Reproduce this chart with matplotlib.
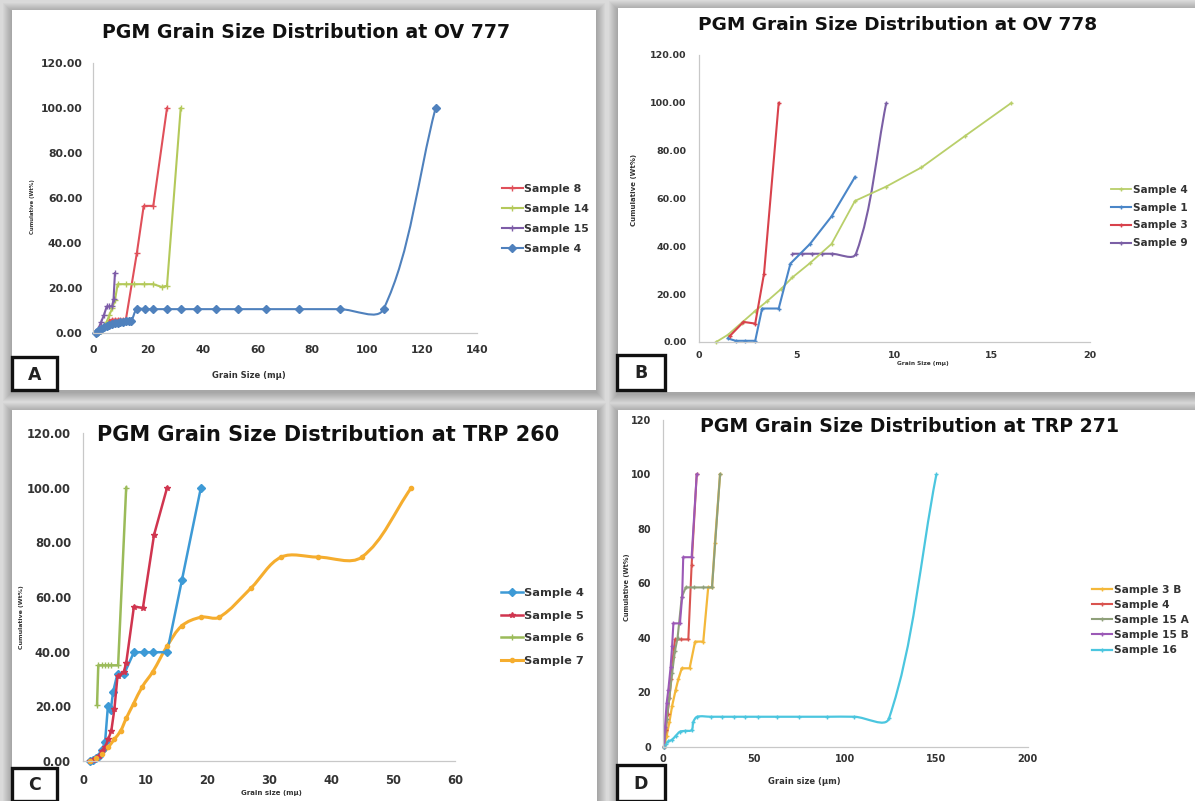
import numpy as np
import matplotlib
matplotlib.use('Agg')
import matplotlib.pyplot as plt
from matplotlib.lines import Line2D
from matplotlib.patches import Rectangle, PathPatch
from matplotlib.path import Path
from matplotlib.ticker import FormatStrFormatter, MultipleLocator

W, H = 1195, 801

# ---------------- panel A : OV 777 ----------------
a_labels = ['Sample 8', 'Sample 14', 'Sample 15', 'Sample 4']
a_s8_x = [1, 2, 3, 4, 5, 6, 7, 8, 9, 10, 11, 12, 16, 18.5, 22, 27]
a_s8_y = [0, 0.5, 1.5, 3, 4.5, 5.5, 6, 6, 6, 6, 6, 6, 35.5, 56.5, 56.5, 100]
a_s14_x = [2, 3, 4, 5, 6, 7, 8, 9, 12, 15, 18.5, 22, 25, 27, 32]
a_s14_y = [0, 1, 3, 5, 8, 11, 14.5, 21.7, 21.7, 21.7, 21.7, 21.7, 20.5, 21, 100]
a_s15_x = [1, 2, 3, 4, 5, 6, 7, 7.5, 8]
a_s15_y = [0, 2, 5, 8, 11.8, 11.8, 12, 15, 26.6]
a_s4_x = [1, 1.5, 2, 2.5, 3, 4, 5, 6, 7, 8, 9, 10, 11, 12, 13, 14,
          16, 19, 22, 27, 32, 38, 45, 53, 63, 75, 90, 106, 125]
a_s4_y = [0, 0.5, 1, 1.5, 2, 2.5, 3, 3.5, 4, 4.3, 4.6, 4.9, 5.1, 5.3, 5.5, 5.5,
          10.6, 10.6, 10.6, 10.6, 10.6, 10.6, 10.6, 10.6, 10.6, 10.6, 10.6, 10.6, 100]

# ---------------- panel B : OV 778 ----------------
b_labels = ['Sample 4', 'Sample 1', 'Sample 3', 'Sample 9']
b_s4_x = [0.9, 1.5, 2.2, 2.9, 3.5, 4.2, 4.8, 5.7, 6.8, 8, 9.6, 11.4, 13.6, 16]
b_s4_y = [0, 3, 8, 13, 17, 22, 27, 33, 41, 59, 65, 73, 86, 100]
b_s1_x = [1.5, 1.9, 2.4, 2.9, 3.25, 4.1, 4.7, 5.7, 6.8, 8]
b_s1_y = [1.5, 0.5, 0.5, 0.5, 14, 14, 32.8, 41, 52.5, 69]
b_s3_x = [1.6, 2.3, 2.9, 3.35, 4.1]
b_s3_y = [2.5, 8.4, 7.7, 28.6, 100]
b_s9_x = [4.8, 5.3, 5.8, 6.3, 6.8, 8.05, 9.6]
b_s9_y = [36.9, 36.9, 36.9, 36.9, 36.9, 36.9, 100]

# ---------------- panel C : TRP 260 ----------------
c_labels = ['Sample 4', 'Sample 5', 'Sample 6', 'Sample 7']
c_s4_x = [1, 1.5, 2, 2.5, 3, 3.5, 3.95, 4.4, 4.8, 5.5, 6.6, 8.15, 9.7, 11.2, 13.5, 15.9, 18.95]
c_s4_y = [0, 0.5, 1, 2, 4, 7, 20, 18.5, 25.4, 32, 32, 39.8, 39.8, 39.8, 39.8, 66.3, 100]
c_s5_x = [1, 1.5, 2, 2.5, 3, 3.5, 4, 4.5, 5, 5.5, 6.5, 6.9, 8.15, 9.6, 11.4, 13.5]
c_s5_y = [0, 0.5, 1, 2, 3.5, 5, 8, 11, 19, 31, 32.5, 35.8, 56.5, 56, 82.8, 100]
c_s6_x = [2.2, 2.4, 3, 3.5, 4, 4.5, 5.6, 6.9]
c_s6_y = [20.5, 35, 35, 35, 35, 35, 35, 100]
c_s7_x = [1, 2, 3, 4, 5, 6, 6.9, 8.1, 9.5, 11.2, 13.5, 15.9, 18.95, 21.9, 27, 31.9, 37.8, 44.9, 52.9]
c_s7_y = [0, 1, 2.5, 5, 8, 11, 15.6, 21, 27.2, 32.7, 42, 49.5, 52.6, 52.6, 63.2, 74.6, 74.6, 74.6, 100]

# ---------------- panel D : TRP 271 ----------------
d_labels = ['Sample 3 B', 'Sample 4', 'Sample 15 A', 'Sample 15 B', 'Sample 16']
d_s3b_x = [0.5, 2, 3.5, 5, 7, 8.5, 10.3, 14.6, 17.6, 22.1, 24.8, 26.9, 28.5, 31.3]
d_s3b_y = [0, 4, 9, 15, 21, 25, 28.8, 28.8, 38.6, 38.6, 58.5, 58.5, 75, 100]
d_s4_x = [0.5, 1.5, 2.5, 3.5, 4.5, 5.5, 6.6, 10, 13.9, 15.7, 18.5]
d_s4_y = [0, 6, 12, 18, 25, 33, 39.4, 39.4, 39.4, 66.7, 100]
d_s15a_x = [0.5, 2, 3.5, 5, 6.5, 8, 10.3, 12.5, 17, 22, 26.9, 31.3]
d_s15a_y = [0, 10, 18, 27, 35, 40, 55, 58.5, 58.5, 58.5, 58.5, 100]
d_s15b_x = [0.5, 1.1, 2, 2.9, 4.2, 5, 5.7, 9.3, 10.5, 11.1, 15.7, 18.5]
d_s15b_y = [0, 7.3, 16, 20.8, 29.4, 37, 45.3, 45.3, 55, 69.6, 69.6, 100]
d_s16_x = [0.5, 1.5, 3, 4.8, 7, 9.3, 12, 15.7, 16.7, 18.8, 26.2, 32.4, 38.7, 45,
           52.3, 62.8, 74.7, 90, 105, 124, 150]
d_s16_y = [0, 1, 2, 2.5, 4, 5.5, 5.8, 6.1, 9.2, 11, 11, 11, 11, 11,
           11, 11, 11, 11, 11, 10.4, 100]

plt.rcParams['font.family'] = ['DejaVu Sans']
TXT = '#333333'


def smooth_path(ax, x, y, k=0.35):
    # bezier through the points, handles scaled by chord length (like Excel "smoothed line")
    pts = np.column_stack([x, y]).astype(float)
    scr = ax.transData.transform(pts)
    n = len(pts)
    verts, codes = [pts[0]], [Path.MOVETO]
    for i in range(n - 1):
        i0, i3 = max(i - 1, 0), min(i + 2, n - 1)
        d01 = np.hypot(*(scr[i] - scr[i0]))
        d12 = np.hypot(*(scr[i + 1] - scr[i]))
        d23 = np.hypot(*(scr[i3] - scr[i + 1]))
        c1 = pts[i] + (pts[i + 1] - pts[i0]) * k * d12 / max(d01 + d12, 1e-9)
        c2 = pts[i + 1] - (pts[i3] - pts[i]) * k * d12 / max(d12 + d23, 1e-9)
        verts += [c1, c2, pts[i + 1]]
        codes += [Path.CURVE4] * 3
    return Path(verts, codes)


fig = plt.figure(figsize=(W / 100, H / 100), dpi=100)
fig.patch.set_facecolor('#dadada')

bg = fig.add_axes([0, 0, 1, 1])
bg.set_xlim(0, W)
bg.set_ylim(H, 0)
bg.axis('off')

cards = [(12, 10, 596, 390), (618, 8, 1195, 392), (12, 410, 597, 801), (618, 410, 1195, 801)]
for x0, y0, x1, y1 in cards:
    for k in range(1, 10):
        bg.add_patch(Rectangle((x0 - k, y0 - k + 2), x1 - x0 + 2 * k, y1 - y0 + 2 * k,
                               facecolor='black', alpha=0.028, lw=0))
for x0, y0, x1, y1 in cards:
    bg.add_patch(Rectangle((x0, y0), x1 - x0, y1 - y0, facecolor='white', lw=0))

letters = [('A', 12, 357, 57, 390), ('B', 617, 355, 665, 390),
           ('C', 12, 768, 57, 801), ('D', 617, 765, 665, 801)]
for t, x0, y0, x1, y1 in letters:
    bg.add_patch(Rectangle((x0, y0), x1 - x0, y1 - y0, facecolor='white',
                           edgecolor='#111111', lw=2.4))
    bg.text((x0 + x1) / 2, (y0 + y1) / 2 + 1, t, ha='center', va='center',
            fontsize=12.5, fontweight='bold', color='#222222')

panels = [
    dict(box=(93, 476.7, 63, 333), xmax=140, xstep=20, yfmt='%.2f',
         title='PGM Grain Size Distribution at OV 777', tpos=(306, 33), tfs=13.6,
         tick_fs=7.8, xpad=8.8, ypad=7.7,
         xlabel='Grain Size (mμ)', xlpos=(249, 375), xlfs=6,
         ylpos=(32.5, 207), ylfs=3.9,
         leg=(501.7, 219), lfs=7.9, lsp=0.9, labels=a_labels,
         series=[(a_s8_x, a_s8_y, '#e0505a', '+', 4, False, 1.5),
                 (a_s14_x, a_s14_y, '#b4c95a', '+', 4, False, 1.5),
                 (a_s15_x, a_s15_y, '#7d5ca8', '+', 4, False, 1.5),
                 (a_s4_x, a_s4_y, '#4f81bd', 'D', 4.5, True, 1.5)]),
    dict(box=(698.5, 1089.7, 55, 342), xmax=20, xstep=5, yfmt='%.2f',
         title='PGM Grain Size Distribution at OV 778', tpos=(898, 25), tfs=13.3,
         tick_fs=6.8, xpad=6.5, ypad=8.6,
         xlabel='Grain Size (mμ)', xlpos=(922.5, 364), xlfs=4.2,
         ylpos=(633.6, 190), ylfs=5,
         leg=(1111, 216.5), lfs=7.6, lsp=0.75, labels=b_labels,
         series=[(b_s4_x, b_s4_y, '#b9cf6a', '+', 3.5, False, 1.3),
                 (b_s1_x, b_s1_y, '#4a86c8', '+', 3.5, False, 1.5),
                 (b_s3_x, b_s3_y, '#d8424c', '+', 3.5, False, 1.5),
                 (b_s9_x, b_s9_y, '#7b5fa5', '+', 3.5, True, 1.5)]),
    dict(box=(83.4, 455.4, 433, 761), xmax=60, xstep=10, yfmt='%.2f',
         title='PGM Grain Size Distribution at TRP 260', tpos=(328, 435), tfs=15,
         tick_fs=8.3, xpad=9.4, ypad=9,
         xlabel='Grain size (mμ)', xlpos=(271.7, 793), xlfs=5,
         ylpos=(21, 617), ylfs=4.5,
         leg=(501, 627), lfs=8.2, lsp=1.1, labels=c_labels,
         series=[(c_s4_x, c_s4_y, '#3d9ad6', 'D', 3.8, False, 1.8),
                 (c_s5_x, c_s5_y, '#d0354f', '*', 4, False, 1.8),
                 (c_s6_x, c_s6_y, '#9bbb59', '+', 4, False, 1.8),
                 (c_s7_x, c_s7_y, '#f5ad2e', 'o', 3, True, 2.2)]),
    dict(box=(663, 1027.5, 420, 746.7), xmax=200, xstep=50, yfmt='%d',
         title='PGM Grain Size Distribution at TRP 271', tpos=(910, 427), tfs=13.6,
         tick_fs=7, xpad=5.4, ypad=8.6,
         xlabel='Grain size (µm)', xlpos=(804, 782), xlfs=6,
         ylpos=(626.7, 587), ylfs=4.8,
         leg=(1092, 620), lfs=7.7, lsp=0.48, labels=d_labels,
         series=[(d_s3b_x, d_s3b_y, '#f4b83a', '+', 3.5, False, 1.6),
                 (d_s4_x, d_s4_y, '#d9534f', '+', 3.5, False, 1.5),
                 (d_s15a_x, d_s15a_y, '#8fa07a', '+', 3.5, False, 1.5),
                 (d_s15b_x, d_s15b_y, '#9b59b6', '+', 3.5, False, 1.5),
                 (d_s16_x, d_s16_y, '#4bc6df', '+', 3.5, True, 1.6)]),
]

for p in panels:
    x0, x1, yt, yb = p['box']
    ax = fig.add_axes([x0 / W, 1 - yb / H, (x1 - x0) / W, (yb - yt) / H])
    ax.patch.set_alpha(0)
    ax.set_xlim(0, p['xmax'])
    ax.set_ylim(0, 120)
    ax.xaxis.set_major_locator(MultipleLocator(p['xstep']))
    ax.yaxis.set_major_locator(MultipleLocator(20))
    ax.yaxis.set_major_formatter(FormatStrFormatter(p['yfmt']))
    for s in ['top', 'right']:
        ax.spines[s].set_visible(False)
    for s in ['left', 'bottom']:
        ax.spines[s].set_color('#c8c8c8')
        ax.spines[s].set_linewidth(0.9)
    ax.tick_params(axis='x', length=0, pad=p['xpad'], labelsize=p['tick_fs'], labelcolor=TXT)
    ax.tick_params(axis='y', length=0, pad=p['ypad'], labelsize=p['tick_fs'], labelcolor=TXT)
    for lab in ax.get_xticklabels() + ax.get_yticklabels():
        lab.set_fontweight('bold')

    handles = []
    for xs, ys, col, mk, ms, smooth, lw in p['series']:
        if smooth:
            ax.add_patch(PathPatch(smooth_path(ax, xs, ys), facecolor='none',
                                   edgecolor=col, lw=lw, clip_on=False))
            ax.plot(xs, ys, ls='none', marker=mk, ms=ms, color=col, mec=col, clip_on=False)
        else:
            ax.plot(xs, ys, color=col, lw=lw, marker=mk, ms=ms, mec=col, clip_on=False)
        handles.append(Line2D([], [], color=col, lw=lw, marker=mk, ms=ms, mec=col))

    ax.set_xlabel(p['xlabel'], fontsize=p['xlfs'], fontweight='bold', color=TXT,
                  va='center', ha='center')
    ax.xaxis.set_label_coords((p['xlpos'][0] - x0) / (x1 - x0), (yb - p['xlpos'][1]) / (yb - yt))
    ax.set_ylabel('Cumulative (Wt%)', fontsize=p['ylfs'], fontweight='bold', color=TXT,
                  va='center', ha='center')
    ax.yaxis.set_label_coords((p['ylpos'][0] - x0) / (x1 - x0), (yb - p['ylpos'][1]) / (yb - yt))

    bg.text(p['tpos'][0], p['tpos'][1], p['title'], ha='center', va='center',
            fontsize=p['tfs'], fontweight='bold', color='#111111')

    fig.legend(handles, p['labels'], loc='center left',
               bbox_to_anchor=(p['leg'][0] / W, 1 - p['leg'][1] / H),
               frameon=False, borderpad=0, borderaxespad=0, handlelength=1.9,
               handletextpad=0.15, labelspacing=p['lsp'],
               prop={'weight': 'bold', 'size': p['lfs']}, labelcolor=TXT)

fig.savefig('out.png', dpi=100)
